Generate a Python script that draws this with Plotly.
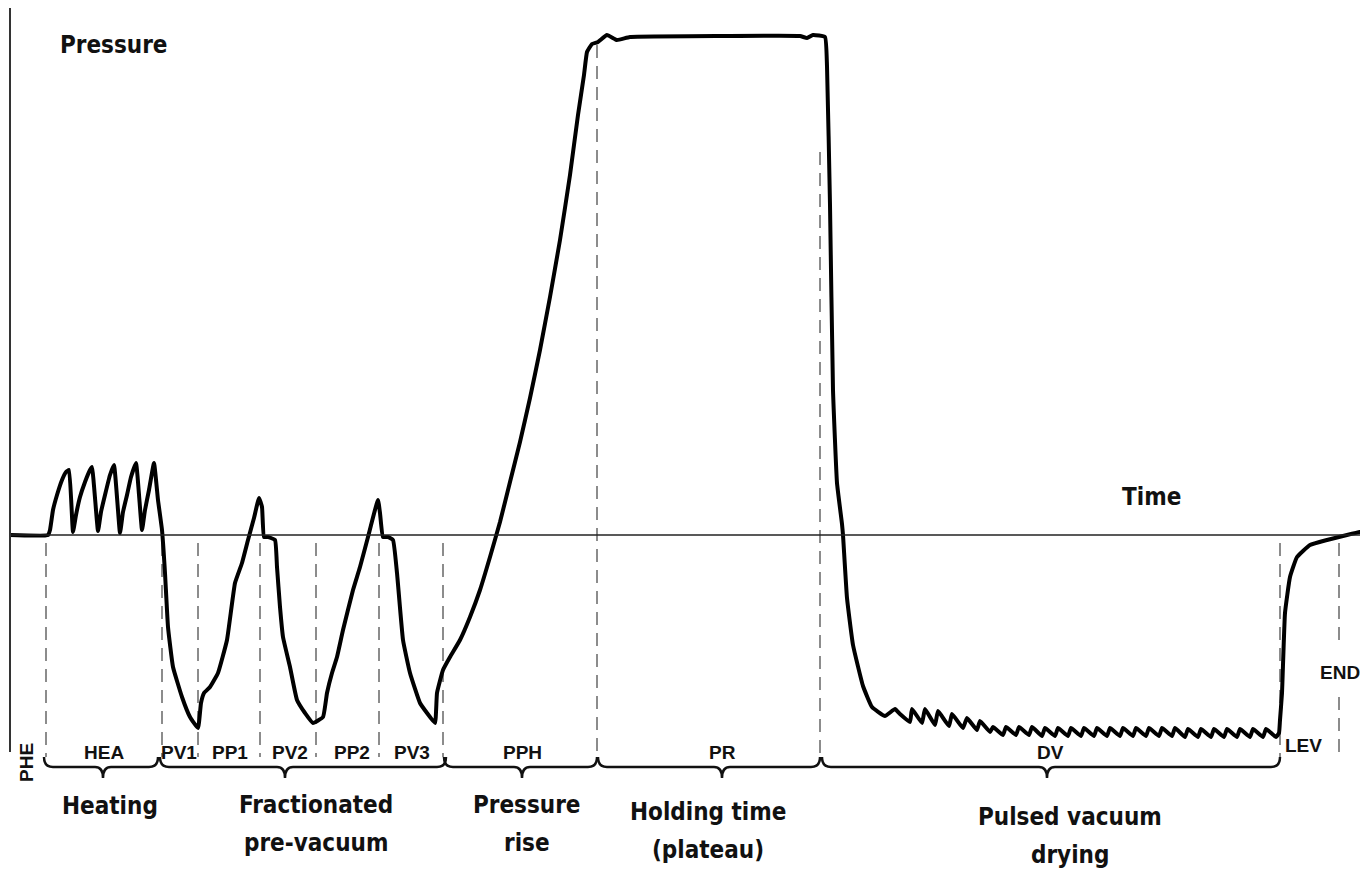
import plotly.graph_objects as go

# ---- data (time in arbitrary units, pressure relative to atmosphere) ----
time = [10, 48,
        50, 53, 57, 62, 66, 69, 73,
        76, 80, 85, 90, 92, 98,
        101, 105, 110, 114, 120,
        123, 127, 131, 136, 142,
        145, 149, 154,
        158, 162, 165, 168, 173, 182, 190, 198,
        201, 204, 210, 218, 227, 235, 242, 248, 254, 259,
        262, 264, 268, 275, 277, 280, 283, 290, 297, 305, 313, 323,
        327, 332, 337, 343, 353, 360, 368, 378,
        380, 383, 388, 393, 397, 403, 410, 420, 427, 435,
        437, 443, 450, 460,
        470, 480, 490, 500, 510, 520, 530, 540, 550, 560, 570, 578, 584, 587, 592, 598, 607, 617, 630, 723, 800, 807, 813, 825,
        827, 830, 833, 837, 842, 843, 847, 853, 863, 872, 885, 895, 900, 910,
        912, 922, 925, 935, 938, 949, 952, 963, 967, 977, 980, 990,
        993, 1003, 1006, 1016, 1019, 1029, 1032, 1042, 1045, 1055, 1058, 1068, 1071, 1081,
        1084, 1094, 1097, 1107, 1110, 1120, 1123, 1133, 1136, 1146, 1149, 1159, 1162, 1172,
        1175, 1185, 1188, 1198, 1201, 1211, 1214, 1224, 1227, 1237, 1240, 1250, 1253, 1263,
        1266, 1276,
        1279, 1280, 1282, 1285, 1290, 1297, 1310, 1327, 1347, 1360, 1367]
pressure = [0, 0,
            5, 25, 40, 55, 63, 65, 3,
            20, 38, 53, 65, 68, 4,
            23, 40, 60, 70, 2,
            23, 40, 58, 72, 5,
            25, 45, 72,
            35, 5, -38, -92, -132, -162, -182, -193,
            -168, -158, -152, -138, -105, -48, -28, -5, 17, 37,
            28, -2, -2, -5, -32, -72, -102, -132, -165, -178, -188, -182,
            -158, -138, -122, -95, -55, -32, -2, 35,
            22, -2, -2, -5, -38, -105, -138, -168, -178, -188,
            -158, -135, -122, -105,
            -82, -55, -22, 13, 53, 93, 137, 185, 238, 295, 360, 420, 460, 483, 491, 493, 500, 495, 498, 499, 499, 497, 500, 498,
            469, 330, 145, 52, 11, 0, -63, -110, -151, -172, -181, -174, -179, -187,
            -174, -188, -174, -190, -176, -191, -179, -193, -183, -195, -186, -197,
            -192, -200, -192, -200, -192, -200, -192, -201, -193, -201, -193, -201, -193, -201,
            -193, -201, -193, -201, -193, -201, -193, -201, -193, -201, -193, -201, -193, -201,
            -193, -202, -194, -202, -194, -202, -194, -202, -194, -202, -194, -202, -194, -202,
            -194, -202,
            -198, -185, -158, -78, -42, -22, -10, -5, 0, 3, 4]

# phase boundaries (dashed lines) and the pressure where each dashed line starts
phase_bounds = [46, 162, 198, 260, 316, 379, 443, 597, 820, 1280, 1339]
bound_top = [-8, -8, -8, -8, -8, -8, -8, 490, 383, -8, -8]

# phase codes and their label positions (time)
phase_codes = ["HEA", "PV1", "PP1", "PV2", "PP2", "PV3", "PPH", "PR", "DV"]
phase_code_t = [104, 179, 230, 290, 352, 412, 522, 722, 1050]

# grouped stages (braces)
stage_names = [["Heating"], ["Fractionated", "pre-vacuum"], ["Pressure", "rise"],
               ["Holding time", "(plateau)"], ["Pulsed vacuum", "drying"]]
stage_start = [44, 160, 444, 598, 822]
stage_end = [158, 446, 597, 820, 1280]
stage_tip = [103, 285, 522, 722, 1047]
stage_text_t = [110, 316, 527, 708, 1070]

W, H = 1368, 871
OFF = 8      # page margin the browser adds around the figure
BASE = 535   # pixel row of the zero-pressure line
def py(pix):
    return BASE - pix

fig = go.Figure()

shapes = []
for t, top in zip(phase_bounds, bound_top):
    if t == 1339:
        segs = [(top, py(647)), (py(697), py(757))]
    else:
        segs = [(top, py(757))]
    for a, b in segs:
        shapes.append(dict(type="line", xref="x", yref="y", x0=t, x1=t, y0=a, y1=b,
                           line=dict(color="#8c8c8c", width=2, dash="13px,8px"), layer="below"))
shapes.append(dict(type="line", xref="x", yref="y", x0=10, x1=1368, y0=0, y1=0,
                   line=dict(color="#222222", width=1.6)))
shapes.append(dict(type="line", xref="x", yref="y", x0=10, x1=10, y0=py(5), y1=py(752),
                   line=dict(color="#333333", width=2)))
ytop, ybar, ytip = py(757), py(767), py(778)
for x0, x1, xc in zip(stage_start, stage_end, stage_tip):
    path = (f"M {x0},{ytop} Q {x0},{ybar} {x0+9},{ybar} L {xc-8},{ybar} "
            f"Q {xc},{ybar} {xc},{ytip} Q {xc},{ybar} {xc+8},{ybar} "
            f"L {x1-9},{ybar} Q {x1},{ybar} {x1},{ytop}")
    shapes.append(dict(type="path", xref="x", yref="y", path=path,
                       line=dict(color="#111111", width=2.5)))

fig.add_trace(go.Scatter(x=time, y=pressure, mode="lines",
                         line=dict(color="black", width=4, shape="spline", smoothing=0.35),
                         hoverinfo="skip"))

BIG = dict(family="DejaVu Sans Condensed, Roboto, sans-serif", size=24, color="#111111")
SMALL = dict(family="Liberation Sans, Arial, sans-serif", size=19, color="#111111")

ann = []
def add(text, x, ypix, font, angle=0):
    ann.append(dict(text=f"<b>{text}</b>", x=x, y=py(ypix), xref="x", yref="y",
                    showarrow=False, font=font, textangle=angle,
                    xanchor="center", yanchor="middle"))

add("Pressure", 114, 45, BIG)
add("Time", 1151, 497, BIG)
for t, code in zip(phase_code_t, phase_codes):
    add(code, t, 752, SMALL)
add("LEV", 1303, 745, SMALL)
add("END", 1340, 672, SMALL)
add("PHE", 26, 763, SMALL, angle=-90)

line_y = [[806], [805, 843], [805, 843], [812, 850], [817, 855]]
for names, t, ys in zip(stage_names, stage_text_t, line_y):
    for n, yy in zip(names, ys):
        add(n, t, yy, BIG)

fig.update_layout(
    width=W - OFF, height=H - OFF, autosize=False,
    margin=dict(l=0, r=0, t=0, b=0),
    paper_bgcolor="white", plot_bgcolor="white",
    xaxis=dict(range=[OFF, W], visible=False, fixedrange=True),
    yaxis=dict(range=[BASE - H, BASE - OFF], visible=False, fixedrange=True),
    shapes=shapes, annotations=ann, showlegend=False,
)

fig.write_html("out.html")
